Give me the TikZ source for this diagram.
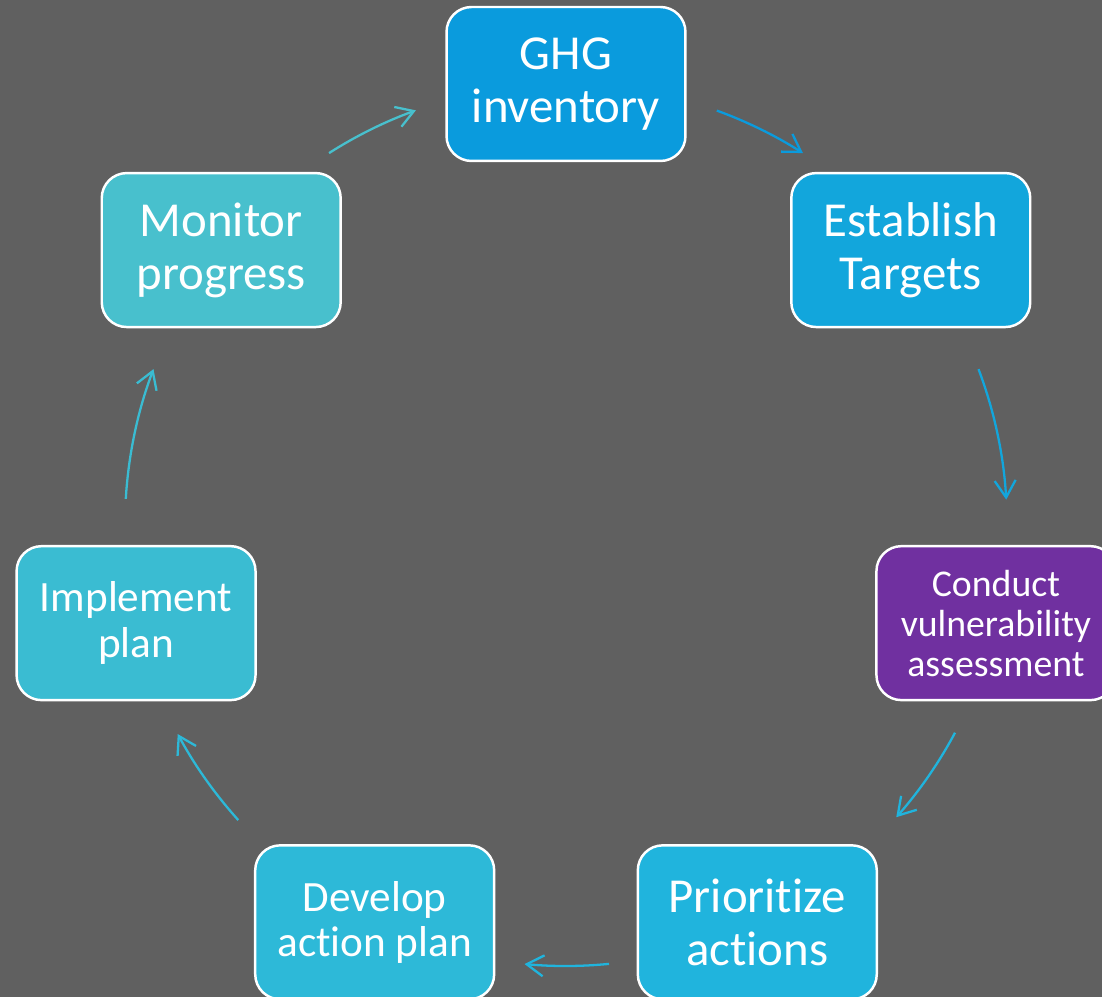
\documentclass[tikz,border=0pt]{standalone}
\usepackage{fontspec}
\setmainfont{Carlito}[Ligatures={NoCommon}]
\usetikzlibrary{arrows.meta}
\definecolor{slate}{HTML}{606060}
\definecolor{cghg}{HTML}{0A9BDD}
\definecolor{ctarget}{HTML}{12A6DC}
\definecolor{cvuln}{HTML}{7030A0}
\definecolor{cprior}{HTML}{20B4DD}
\definecolor{cdevelop}{HTML}{2DB9D8}
\definecolor{cimpl}{HTML}{3ABCD2}
\definecolor{cmonitor}{HTML}{48C0CD}
\tikzset{
  stage/.style={draw=white, line width=1.4pt, rounded corners=0.5cm, text=white,
    align=center, minimum width=4.78cm, minimum height=3.08cm, inner sep=0pt},
  bigtext/.style={font=\fontsize{27.8}{30}\selectfont},
  midtext/.style={font=\fontsize{24.6}{26}\selectfont},
  smalltext/.style={font=\fontsize{21.5}{22.7}\selectfont},
  flow/.style={-{Straight Barb[length=3.4mm,width=4.2mm]}, line width=1.3pt},
}
\begin{document}
\begin{tikzpicture}[x=0.02cm, y=0.02cm]
      \clip (-566,-472) rectangle (536,525);
      \fill[slate] (-566,-472) rectangle (536,525);
      \draw
        (90.00:441) node[stage, bigtext, fill=cghg] (ghg) {GHG\\inventory}
        (38.57:441) node[stage, bigtext, fill=ctarget] (target) {Establish\\Targets}
        (-12.86:441) node[stage, smalltext, fill=cvuln] (vuln) {Conduct\\vulnerability\\assessment}
        (-64.29:441) node[stage, bigtext, fill=cprior] (prior) {Prioritize\\actions}
        (-115.71:441) node[stage, midtext, fill=cdevelop] (develop) {Develop\\action plan}
        (-167.14:441) node[stage, midtext, fill=cimpl] (impl) {Implement\\plan}
        (141.43:441) node[stage, bigtext, fill=cmonitor] (monitor) {Monitor\\progress};
      \coordinate (f1) at (70.0:441);
      \coordinate (f2) at (20.7:441);
      \coordinate (f3) at (-28.1:441);
      \coordinate (f4) at (-84.4:441);
      \coordinate (f5) at (-138.0:441);
      \coordinate (f6) at (176.6:441);
      \coordinate (f7) at (122.5:441);
      \begin{scope}[flow]
        \draw[cghg] (f1) arc[start angle=70.0, end angle=57.5, radius=441];
        \draw[ctarget] (f2) arc[start angle=20.7, end angle=3.3, radius=441];
        \draw[cprior] (f3) arc[start angle=-28.1, end angle=-41.5, radius=441];
        \draw[cprior] (f4) arc[start angle=-84.4, end angle=-95.4, radius=441];
        \draw[cdevelop] (f5) arc[start angle=-138.0, end angle=-151.7, radius=441];
        \draw[cimpl] (f6) arc[start angle=176.6, end angle=159.3, radius=441];
        \draw[cmonitor] (f7) arc[start angle=122.5, end angle=109.9, radius=441];
      \end{scope}
    \end{tikzpicture}
\end{document}
